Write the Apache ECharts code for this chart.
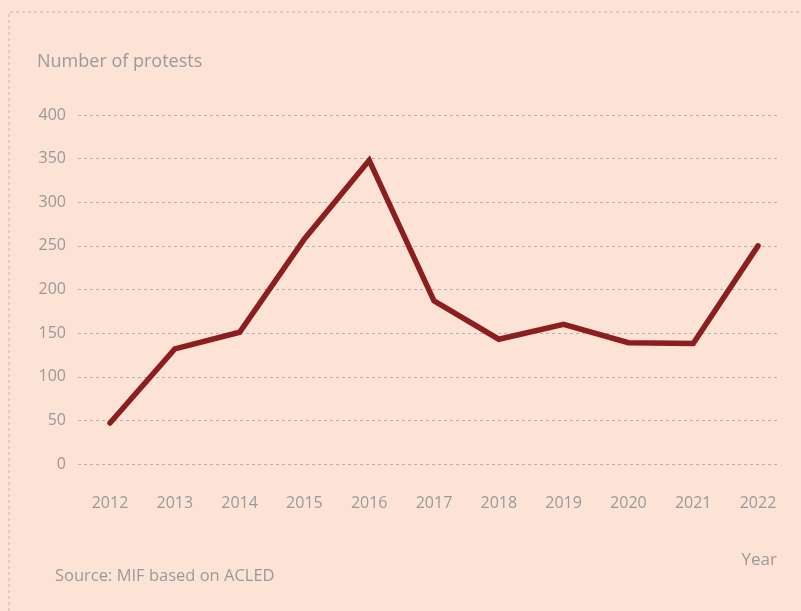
<!DOCTYPE html>
<html>
<head>
<meta charset="utf-8">
<script src="https://cdn.jsdelivr.net/npm/echarts@6/dist/echarts.min.js"></script>
<style>
  html, body { margin: 0; padding: 0; background: #fde2d6; }
  #chart { width: 801px; height: 611px; }
</style>
</head>
<body>
<div id="chart"></div>
<script>
// data
const years = ["2012", "2013", "2014", "2015", "2016", "2017", "2018", "2019", "2020", "2021", "2022"];
const protests = [47, 132, 151, 258, 348, 187, 143, 160, 139, 138, 250];

const grey = "#9a9a9a";
const font = "Open Sans";

let chart = echarts.init(document.getElementById("chart"));
chart.setOption({
  backgroundColor: "#fde2d6",
  animation: false,
  textStyle: { fontFamily: font },
  title: [
    {
      text: "Number of protests",
      left: 37, top: 53, padding: 0,
      textStyle: { color: grey, fontSize: 18, fontWeight: "normal", fontFamily: font }
    },
    {
      text: "Year",
      right: 24, top: 552, padding: 0,
      textStyle: { color: grey, fontSize: 17, fontWeight: "normal", fontFamily: font }
    },
    {
      text: "Source: MIF based on ACLED",
      left: 55, top: 568, padding: 0,
      textStyle: { color: grey, fontSize: 16.5, fontWeight: "normal", fontFamily: font }
    }
  ],
  //虚线边框
  graphic: [
    {
      type: "polyline",
      shape: { points: [[9, 611], [9, 12], [801, 12]] },
      style: { stroke: "#b9b9b9", lineWidth: 1, lineDash: [3, 3], fill: null },
      silent: true
    }
  ],
  // grid 0: 网格线和y轴刻度; grid 1: 折线
  grid: [
    { left: 78, right: 24, top: 115, bottom: 147 },
    { left: 110, right: 43, top: 115, bottom: 147 }
  ],
  xAxis: [
    {
      gridIndex: 0,
      type: "category",
      data: years,
      show: false
    },
    {
      gridIndex: 1,
      type: "category",
      data: years,
      boundaryGap: false,
      axisLine: { show: false },
      axisTick: { show: false },
      axisLabel: { color: grey, fontSize: 16, margin: 31, fontFamily: font }
    }
  ],
  yAxis: [
    {
      gridIndex: 0,
      type: "value",
      min: 0,
      max: 400,
      interval: 50,
      axisLine: { show: false },
      axisTick: { show: false },
      axisLabel: { color: grey, fontSize: 16, margin: 12, fontFamily: font },
      splitLine: { lineStyle: { color: "#b3b3b3", type: [3, 3], width: 1 } }
    },
    {
      gridIndex: 1,
      type: "value",
      min: 0,
      max: 400,
      interval: 50,
      show: false,
      splitLine: { show: false }
    }
  ],
  series: [
    {
      type: "line",
      xAxisIndex: 1,
      yAxisIndex: 1,
      data: protests,
      symbol: "none",
      lineStyle: { color: "#8b1e1e", width: 5.5, cap: "round", join: "miter" }
    }
  ]
});
</script>
</body>
</html>
